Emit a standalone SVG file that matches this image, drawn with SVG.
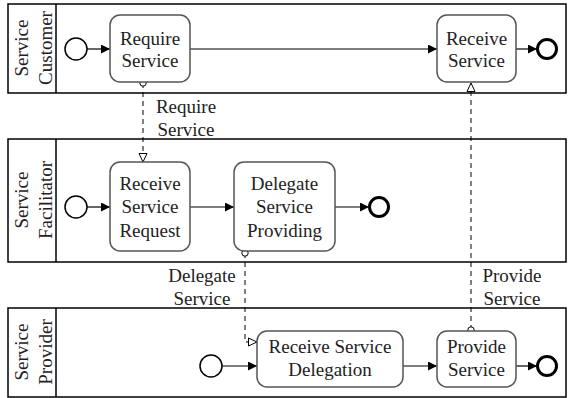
<svg xmlns="http://www.w3.org/2000/svg" width="569" height="398" viewBox="0 0 569 398" font-family="Liberation Serif, Times New Roman, Times, serif" font-size="19">
<style>
.pool{fill:#fff;stroke:#000;stroke-width:1.5}
.div{stroke:#000;stroke-width:1.5}
.task{fill:#fff;stroke:#555;stroke-width:1.5}
.start{fill:#fff;stroke:#000;stroke-width:1.5}
.end{fill:#fff;stroke:#000;stroke-width:3}
.seq{fill:none;stroke:#000;stroke-width:1.2;marker-end:url(#seqA)}
.msg{fill:none;stroke:#000;stroke-width:1;stroke-dasharray:5,4;marker-start:url(#msgS);marker-end:url(#msgE)}
.t{fill:#222;text-anchor:middle}
</style>
<defs>
<marker id="seqA" viewBox="0 0 10 10" refX="10" refY="5" markerWidth="11" markerHeight="9" orient="auto" markerUnits="userSpaceOnUse"><path d="M0,0 L10,5 L0,10 z" fill="#000"/></marker>
<marker id="msgE" viewBox="0 0 10 10" refX="9.5" refY="5" markerWidth="10" markerHeight="10" orient="auto" markerUnits="userSpaceOnUse"><path d="M1,1 L9.5,5 L1,9 z" fill="#fff" stroke="#000" stroke-width="1"/></marker>
<marker id="msgS" viewBox="0 0 10 10" refX="5" refY="5" markerWidth="10" markerHeight="10" orient="auto" markerUnits="userSpaceOnUse"><circle cx="5" cy="5" r="3.2" fill="#fff" stroke="#000" stroke-width="1"/></marker>
</defs>

<g id="pool-customer">
<rect class="pool" x="8" y="4" width="558" height="89"/>
<line class="div" x1="56" y1="4" x2="56" y2="93"/>
<text class="t" transform="translate(28,48) rotate(-90)">Service</text>
<text class="t" transform="translate(52,48) rotate(-90)">Customer</text>
</g>
<g id="pool-facilitator">
<rect class="pool" x="8" y="139" width="558" height="123"/>
<line class="div" x1="56" y1="139" x2="56" y2="262"/>
<text class="t" transform="translate(28,200) rotate(-90)">Service</text>
<text class="t" transform="translate(52,200) rotate(-90)">Facilitator</text>
</g>
<g id="pool-provider">
<rect class="pool" x="8" y="308" width="558" height="89"/>
<line class="div" x1="56" y1="308" x2="56" y2="397"/>
<text class="t" transform="translate(28,352) rotate(-90)">Service</text>
<text class="t" transform="translate(52,352) rotate(-90)">Provider</text>
</g>

<g id="connectors">
<line class="seq" x1="87" y1="49" x2="110" y2="49"/>
<line class="seq" x1="190" y1="49" x2="437" y2="49"/>
<line class="seq" x1="516" y1="49" x2="537" y2="49"/>
<line class="seq" x1="87" y1="207" x2="110" y2="207"/>
<line class="seq" x1="190" y1="207" x2="234" y2="207"/>
<line class="seq" x1="335" y1="207" x2="369" y2="207"/>
<line class="seq" x1="222" y1="366" x2="257" y2="366"/>
<line class="seq" x1="403" y1="366" x2="437" y2="366"/>
<line class="seq" x1="516" y1="366" x2="537" y2="366"/>
<path class="msg" d="M143,83 L143,162"/>
<path class="msg" d="M245,253 L245,342 L257,342"/>
<path class="msg" d="M471,330 L471,83"/>
<text class="t" x="186" y="113">Require</text>
<text class="t" x="186" y="136">Service</text>
<text class="t" x="202" y="282">Delegate</text>
<text class="t" x="202" y="305">Service</text>
<text class="t" x="512" y="282">Provide</text>
<text class="t" x="512" y="305">Service</text>
</g>

<g id="start-customer"><circle class="start" cx="76" cy="49" r="11"/></g>
<g id="task-require-service">
<rect class="task" x="110" y="15" width="80" height="67" rx="10"/>
<text class="t" x="150" y="45">Require</text>
<text class="t" x="150" y="67">Service</text>
</g>
<g id="task-receive-service">
<rect class="task" x="437" y="15" width="79" height="67" rx="10"/>
<text class="t" x="476.5" y="45">Receive</text>
<text class="t" x="476.5" y="67">Service</text>
</g>
<g id="end-customer"><circle class="end" cx="547" cy="49" r="9.5"/></g>

<g id="start-facilitator"><circle class="start" cx="76" cy="207" r="11"/></g>
<g id="task-receive-request">
<rect class="task" x="110" y="162" width="80" height="89" rx="10"/>
<text class="t" x="150" y="189.5">Receive</text>
<text class="t" x="150" y="213">Service</text>
<text class="t" x="150" y="236.5">Request</text>
</g>
<g id="task-delegate">
<rect class="task" x="234" y="162" width="101" height="89" rx="10"/>
<text class="t" x="284.5" y="189.5">Delegate</text>
<text class="t" x="284.5" y="213">Service</text>
<text class="t" x="284.5" y="236.5">Providing</text>
</g>
<g id="end-facilitator"><circle class="end" cx="379" cy="207" r="9.5"/></g>

<g id="start-provider"><circle class="start" cx="211" cy="366" r="11"/></g>
<g id="task-receive-delegation">
<rect class="task" x="257" y="331" width="146" height="56" rx="10"/>
<text class="t" x="330" y="353">Receive Service</text>
<text class="t" x="330" y="376">Delegation</text>
</g>
<g id="task-provide-service">
<rect class="task" x="437" y="331" width="79" height="56" rx="10"/>
<text class="t" x="476.5" y="353">Provide</text>
<text class="t" x="476.5" y="376">Service</text>
</g>
<g id="end-provider"><circle class="end" cx="547" cy="366" r="9.5"/></g>
</svg>
